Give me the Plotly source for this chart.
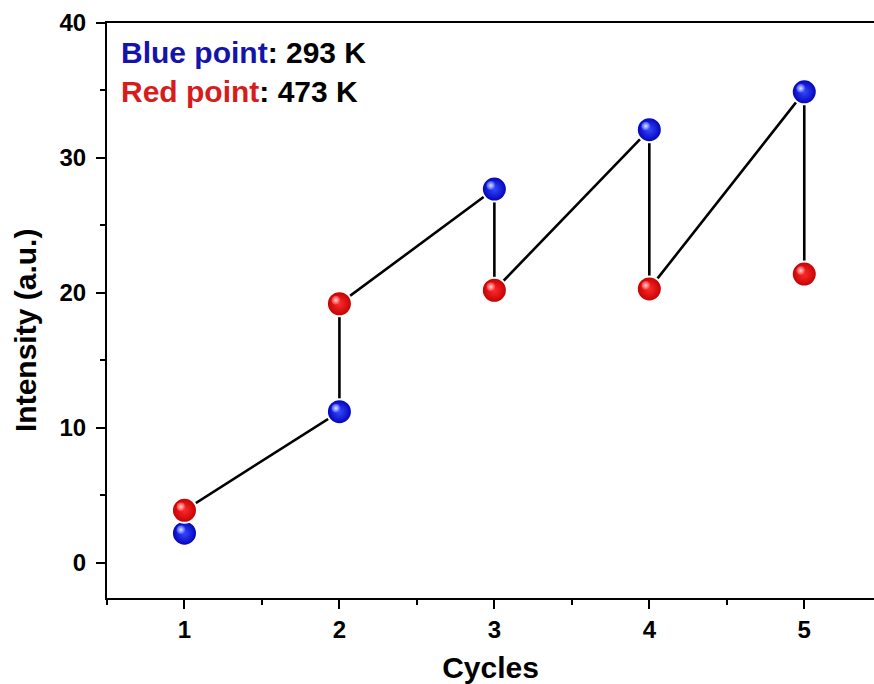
import plotly.graph_objects as go

# Intensity per heating cycle at the two temperatures
cycles = [1, 2, 3, 4, 5]
blue_293K = [2.2, 11.2, 27.7, 32.1, 34.9]
red_473K = [3.9, 19.2, 20.2, 20.3, 21.4]

# Connecting path: red(n) -> blue(n+1) -> red(n+1) ...
path_x, path_y = [cycles[0]], [red_473K[0]]
for i in range(1, len(cycles)):
    path_x += [cycles[i], cycles[i]]
    path_y += [blue_293K[i], red_473K[i]]

FONT = "Liberation Sans, Arial, sans-serif"
W, H = 874, 684
M = dict(l=107, r=0, t=23, b=86)
XR = [0.5, 5.45]
YR = [-2.6, 40]

# pixel -> data conversion, used to nudge the specular highlight of each sphere
px_x = (XR[1] - XR[0]) / (W - M["l"] - M["r"])
px_y = (YR[1] - YR[0]) / (H - M["t"] - M["b"])
HL_DX, HL_DY = -3.5 * px_x, 3.5 * px_y

fig = go.Figure()
fig.add_trace(go.Scatter(
    x=path_x, y=path_y, mode="lines",
    line=dict(color="black", width=2.6), hoverinfo="skip", showlegend=False,
))

def sphere(y, edge, centre, glow):
    body = go.Scatter(
        x=cycles, y=y, mode="markers", showlegend=False,
        marker=dict(size=25, color=edge,
                    gradient=dict(type="radial", color=centre),
                    line=dict(color="white", width=2)),
    )
    shine = go.Scatter(
        x=[c + HL_DX for c in cycles], y=[v + HL_DY for v in y],
        mode="markers", showlegend=False, hoverinfo="skip",
        marker=dict(size=9, color=centre,
                    gradient=dict(type="radial", color=glow), line=dict(width=0)),
    )
    return [body, shine]

fig.add_traces(sphere(blue_293K, "#0000b4", "#3448ff", "#dfe4ff"))
fig.add_traces(sphere(red_473K, "#c00000", "#ff2a2a", "#ffd8d8"))

fig.add_annotation(
    x=0, y=1, xref="paper", yref="paper", xanchor="left", yanchor="top",
    xshift=12, yshift=-11, align="left", showarrow=False,
    text=("<span style='color:#1414ac'>Blue point</span>: 293 K<br>"
          "<span style='color:#d81c1c'>Red point</span>: 473 K"),
    font=dict(family=FONT, size=30, color="black", weight="bold"),
)

title_font = dict(family=FONT, size=30, color="black", weight="bold")

# y-axis title, set slightly below the middle of the axis
fig.add_annotation(
    x=-0.107, y=0.466, xref="paper", yref="paper", xanchor="center", yanchor="middle",
    text="Intensity (a.u.)", textangle=-90, showarrow=False, font=title_font,
)

axis_common = dict(
    showgrid=False, zeroline=False, showline=True, linecolor="black", linewidth=2,
    ticks="outside", ticklen=9, tickwidth=2, tickcolor="black",
    tickfont=dict(family=FONT, size=24, color="black", weight="bold"),
)

fig.update_xaxes(
    **axis_common, range=XR, tickvals=cycles, mirror=True,
    minor=dict(ticks="outside", ticklen=5, tickwidth=2, tickcolor="black", dtick=0.5, tick0=0.5),
    title=dict(text="Cycles", font=title_font, standoff=17),
)
fig.update_yaxes(
    **axis_common, range=YR, tickvals=[0, 10, 20, 30, 40], ticklabelstandoff=5,
    minor=dict(ticks="outside", ticklen=5, tickwidth=2, tickcolor="black", dtick=5, tick0=0),
)

fig.update_layout(
    width=W, height=H, paper_bgcolor="white", plot_bgcolor="white",
    margin=M,
)

fig.write_html("out.html")
